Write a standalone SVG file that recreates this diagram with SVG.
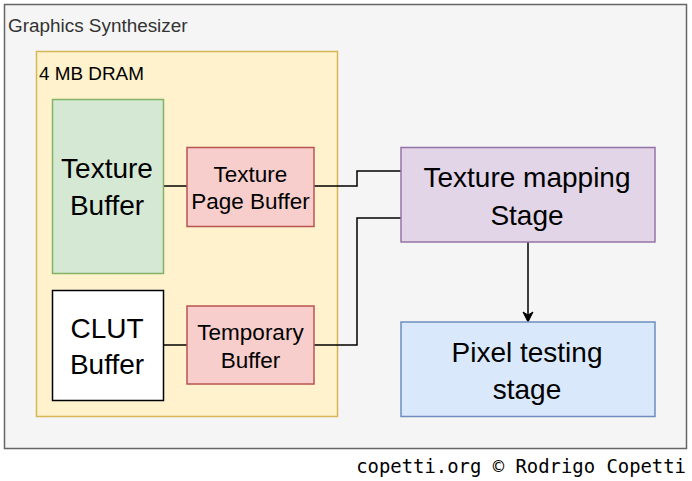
<svg xmlns="http://www.w3.org/2000/svg" width="692" height="481" viewBox="0 0 692 481">
<defs>
<style>
text{font-family:"Liberation Sans",Arial,Helvetica,sans-serif;fill:#000;}
.c{text-anchor:middle;}
.big{font-size:28px;}
.mid{font-size:22.5px;}
.conn{fill:none;stroke:#000;stroke-width:1.5;}
</style>
<marker id="arr" markerWidth="12" markerHeight="12" refX="10" refY="6" orient="auto" markerUnits="userSpaceOnUse">
<path d="M1,1 L11,6 L1,11 L4,6 Z" fill="#000" stroke="#000" stroke-width="1"/>
</marker>
</defs>
<rect width="692" height="481" fill="#fff"/>
<g id="gs">
<rect x="4.5" y="4.5" width="682" height="444" fill="#f5f5f5" stroke="#666" stroke-width="1.5"/>
<text x="8" y="32" font-size="18.9" style="fill:#333">Graphics Synthesizer</text>
</g>
<g id="dram">
<rect x="36.5" y="51.5" width="301" height="365" fill="#fff2cc" stroke="#d6b656" stroke-width="1.5"/>
<text x="39" y="80" font-size="18.9">4 MB DRAM</text>
</g>
<g id="connectors">
<path class="conn" d="M163.5,186 H187"/>
<path class="conn" d="M163.5,345 H187"/>
<path class="conn" d="M314,186 H357 V171 H401"/>
<path class="conn" d="M314,345 H357 V218 H401"/>
<path class="conn" d="M528,242 V321" marker-end="url(#arr)"/>
</g>
<g id="texture-buffer">
<rect x="52.5" y="99.5" width="111" height="174" fill="#d5e8d4" stroke="#82b366" stroke-width="1.5"/>
<text class="c big" x="107" y="178">Texture</text>
<text class="c big" x="107" y="215">Buffer</text>
</g>
<g id="clut-buffer">
<rect x="52.5" y="290.5" width="111" height="110" fill="#fff" stroke="#000" stroke-width="1.5"/>
<text class="c big" x="107" y="338">CLUT</text>
<text class="c big" x="107" y="374">Buffer</text>
</g>
<g id="texture-page-buffer">
<rect x="187" y="147.5" width="127" height="79" fill="#f8cecc" stroke="#b85450" stroke-width="1.5"/>
<text class="c mid" x="250.5" y="182">Texture</text>
<text class="c mid" x="250.5" y="209">Page Buffer</text>
</g>
<g id="temporary-buffer">
<rect x="187" y="306" width="127" height="78" fill="#f8cecc" stroke="#b85450" stroke-width="1.5"/>
<text class="c mid" x="250.5" y="340">Temporary</text>
<text class="c mid" x="250.5" y="367.5">Buffer</text>
</g>
<g id="texture-mapping">
<rect x="401" y="147.5" width="254" height="94.5" fill="#e1d5e7" stroke="#9673a6" stroke-width="1.5"/>
<text class="c big" x="527" y="187">Texture mapping</text>
<text class="c big" x="527" y="225">Stage</text>
</g>
<g id="pixel-testing">
<rect x="401" y="322" width="254" height="94.5" fill="#dae8fc" stroke="#6c8ebf" stroke-width="1.5"/>
<text class="c big" x="527" y="362">Pixel testing</text>
<text class="c big" x="527" y="399">stage</text>
</g>
<text x="686" y="473" text-anchor="end" font-size="18.9" style="font-family:'DejaVu Sans Mono',monospace">copetti.org © Rodrigo Copetti</text>
</svg>
